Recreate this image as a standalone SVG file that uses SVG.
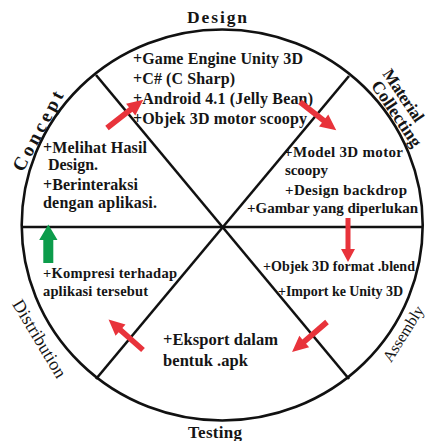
<svg xmlns="http://www.w3.org/2000/svg" width="428" height="441" viewBox="0 0 428 441">
<defs>
<style>
.ln{fill:none;stroke:#111;stroke-width:2.6}
.t{font-family:"Liberation Serif","Times New Roman",serif;font-weight:bold;fill:#151515}
.lb{font-family:"Liberation Serif","Times New Roman",serif;fill:#151515}
.red{fill:#e8333b}
.grn{fill:#0c9c4b}
</style>
<path id="arD" d="M0,-2.8 L30,-2.8 L30,-7.5 L46,0 L30,7.5 L30,2.8 L0,2.8 Z"/>
</defs>
<rect width="428" height="441" fill="#fff"/>
<g id="wheel">
<ellipse class="ln" cx="222.2" cy="225" rx="200.5" ry="195.5"/>
<line class="ln" x1="21.7" y1="227" x2="422.7" y2="227"/>
<line class="ln" x1="96" y1="75" x2="349" y2="379"/>
<line class="ln" x1="349" y1="76" x2="96" y2="379"/>
</g>
<g id="design">
<text class="t" x="187" y="23.3" font-size="17.5" textLength="60">Design</text>
<text class="t" x="133" y="64" font-size="16" textLength="170">+Game Engine Unity 3D</text>
<text class="t" x="133" y="84" font-size="16" textLength="102">+C# (C Sharp)</text>
<text class="t" x="133" y="104" font-size="16" textLength="180">+Android 4.1 (Jelly Bean)</text>
<text class="t" x="133" y="124" font-size="16" textLength="174">+Objek 3D motor scoopy</text>
</g>
<g id="concept">
<text class="t" font-size="19" textLength="88" transform="translate(22.7,172.8) rotate(-62)">Concept</text>
<text class="t" x="43" y="153" font-size="16" textLength="104">+Melihat Hasil</text>
<text class="t" x="48" y="170" font-size="16" textLength="50">Design.</text>
<text class="t" x="43" y="190" font-size="16" textLength="95">+Berinteraksi</text>
<text class="t" x="43" y="208" font-size="16" textLength="114">dengan aplikasi.</text>
</g>
<g id="material-collecting">
<text class="t" font-size="17" textLength="60" transform="translate(382,73.8) rotate(56)">Material</text>
<text class="t" font-size="17.5" textLength="76" transform="translate(370.6,85.4) rotate(56)">Collecting</text>
<text class="t" x="284" y="157" font-size="15" textLength="119">+Model 3D motor</text>
<text class="t" x="285" y="175" font-size="15" textLength="43">scoopy</text>
<text class="t" x="285" y="195" font-size="15" textLength="122">+Design backdrop</text>
<text class="t" x="247" y="213" font-size="15" textLength="171">+Gambar yang diperlukan</text>
</g>
<g id="assembly">
<text class="lb" font-size="16" textLength="63" transform="translate(391,363.3) rotate(-58)">Assembly</text>
<text class="t" x="263" y="271" font-size="14" textLength="152">+Objek 3D format .blend</text>
<text class="t" x="278" y="296" font-size="14" textLength="125">+Import ke Unity 3D</text>
</g>
<g id="testing">
<text class="t" x="188" y="438" font-size="17" textLength="54">Testing</text>
<text class="t" x="163" y="345" font-size="16.5" textLength="115">+Eksport dalam</text>
<text class="t" x="163" y="366" font-size="16.5" textLength="85">bentuk .apk</text>
</g>
<g id="distribution">
<text class="lb" font-size="18" textLength="88" transform="translate(11.8,304) rotate(59)">Distribution</text>
<text class="t" x="43" y="278" font-size="14.5" textLength="134">+Kompresi terhadap</text>
<text class="t" x="43" y="296" font-size="14.5" textLength="105">aplikasi tersebut</text>
</g>
<g id="connectors">
<use href="#arD" class="red" transform="translate(107,128) rotate(-37.9)"/>
<use href="#arD" class="red" transform="translate(300,102) rotate(38)"/>
<path class="red" d="M345.5,218 L350.5,218 L350.5,249 L355,249 L348,262 L341,249 L345.5,249 Z"/>
<use href="#arD" class="red" transform="translate(327,322) rotate(139.4)"/>
<use href="#arD" class="red" transform="translate(143,350) rotate(221.5)"/>
<path class="grn" d="M43.3,263 L53.3,263 L53.3,240 L57.5,240 L48.3,224.5 L39.2,240 L43.3,240 Z"/>
</g>
</svg>
